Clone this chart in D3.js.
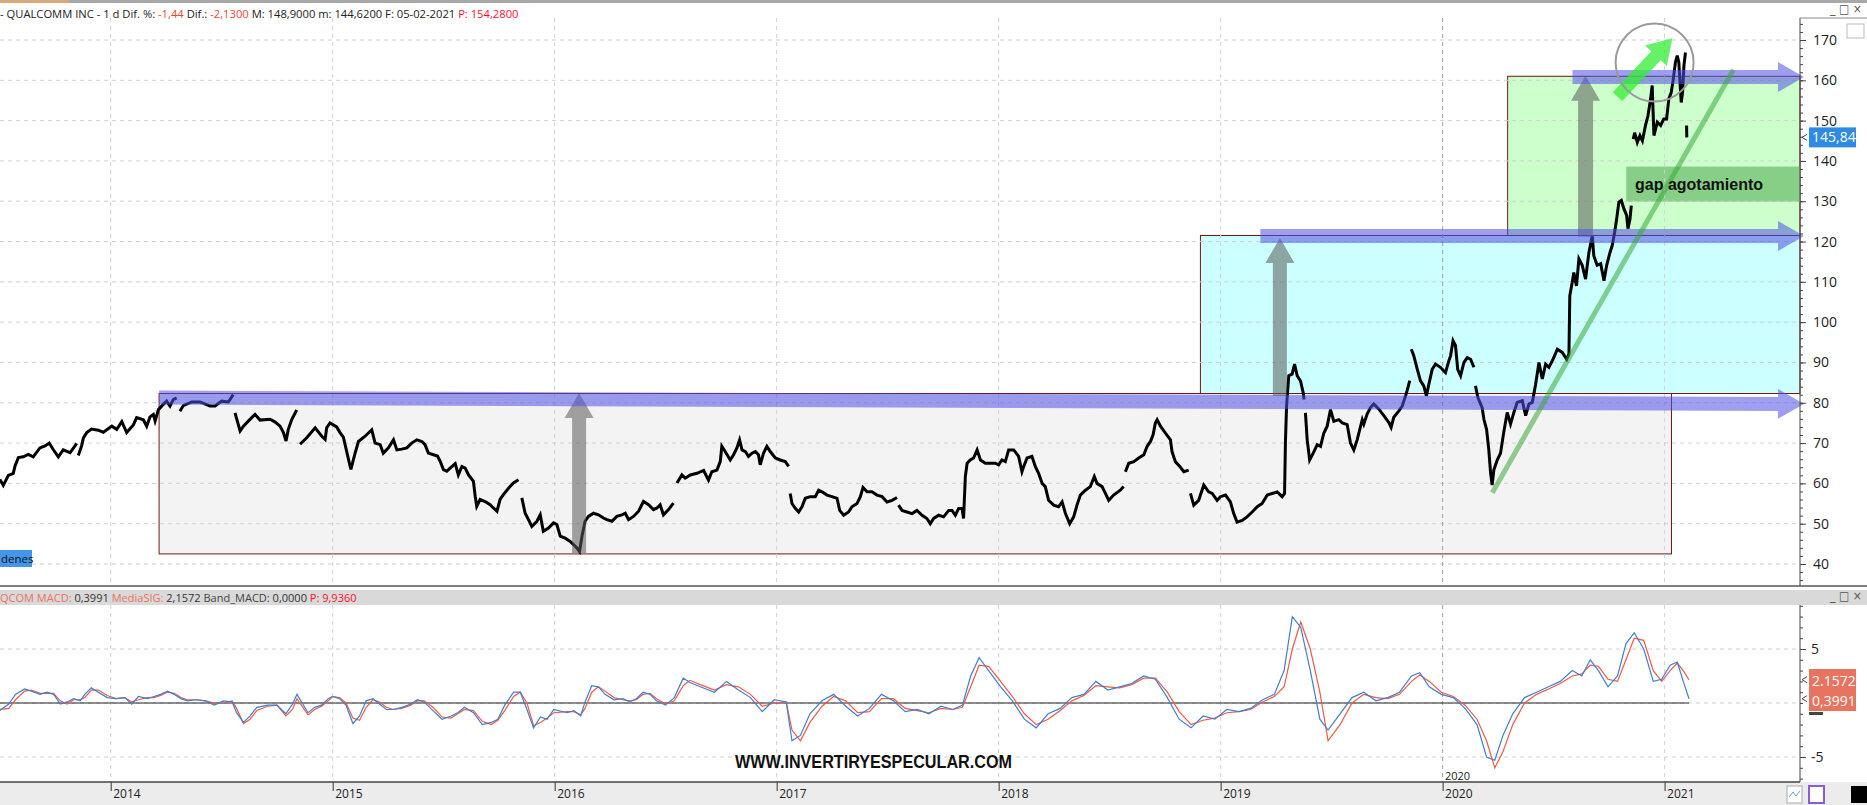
<!DOCTYPE html>
<html><head><meta charset="utf-8">
<script src="https://cdn.jsdelivr.net/npm/d3@7"></script>
<style>
html,body{margin:0;padding:0;background:#fff;}
svg{display:block;font-family:"Open Sans","Noto Sans",sans-serif;}
</style></head><body>
<svg id="chart" width="1867" height="805"></svg>
<script>
// ---------- DATA ----------
// QUALCOMM daily price (decimal year, price); null = gap in the series
const priceSeries = [
[2013.501,61.0],[2013.516,59.5],[2013.539,62.0],[2013.561,62.5],[2013.569,64.3],[2013.584,66.4],[2013.606,66.6],[2013.629,67.2],[2013.651,66.6],[2013.681,68.8],[2013.704,69.3],[2013.723,70.0],[2013.741,68.4],[2013.764,66.6],[2013.786,68.3],[2013.817,67.6],[2013.839,69.3],[2013.847,69.9],[2013.850,null],
[2013.854,66.9],[2013.869,69.3],[2013.877,71.3],[2013.892,72.6],[2013.914,73.5],[2013.944,73.2],[2013.967,72.7],[2014.005,74.2],[2014.027,73.4],[2014.050,75.3],[2014.072,72.6],[2014.102,74.5],[2014.117,76.3],[2014.147,75.8],[2014.162,74.2],[2014.177,76.5],[2014.192,77.1],[2014.200,75.5],[2014.215,78.3],[2014.237,79.6],[2014.252,80.4],[2014.267,79.2],[2014.282,80.8],[2014.297,81.2],[2014.305,null],
[2014.312,77.9],[2014.327,79.3],[2014.365,80.2],[2014.402,80.2],[2014.447,79.2],[2014.470,79.2],[2014.500,80.4],[2014.530,80.2],[2014.552,82.0],[2014.556,null],
[2014.560,77.5],[2014.583,73.0],[2014.598,74.2],[2014.635,76.3],[2014.650,77.1],[2014.673,75.7],[2014.718,75.9],[2014.741,75.2],[2014.763,74.2],[2014.778,72.6],[2014.790,70.5],[2014.800,73.4],[2014.816,75.9],[2014.838,78.2],[2014.845,null],
[2014.853,69.7],[2014.883,71.3],[2014.921,73.8],[2014.951,71.7],[2014.966,70.9],[2014.973,73.8],[2014.988,75.0],[2015.018,74.0],[2015.033,72.6],[2015.048,71.5],[2015.071,66.0],[2015.082,63.5],[2015.101,67.5],[2015.116,70.4],[2015.146,71.7],[2015.176,73.3],[2015.191,70.0],[2015.214,69.6],[2015.228,67.5],[2015.251,68.8],[2015.274,70.8],[2015.289,68.3],[2015.311,68.5],[2015.334,68.8],[2015.356,70.0],[2015.379,70.8],[2015.402,70.4],[2015.416,69.6],[2015.431,67.5],[2015.454,67.1],[2015.472,66.8],[2015.484,65.5],[2015.499,63.4],[2015.514,63.0],[2015.529,63.8],[2015.552,64.9],[2015.566,62.1],[2015.582,64.2],[2015.597,63.8],[2015.612,62.1],[2015.634,60.5],[2015.642,56.8],[2015.649,54.3],[2015.664,56.0],[2015.687,55.5],[2015.709,54.7],[2015.724,53.9],[2015.740,53.1],[2015.754,56.0],[2015.769,57.2],[2015.792,58.8],[2015.814,60.1],[2015.837,60.9],[2015.840,null],
[2015.852,56.4],[2015.867,52.6],[2015.882,51.0],[2015.897,49.3],[2015.920,50.6],[2015.935,52.2],[2015.949,48.1],[2015.972,48.9],[2015.995,50.2],[2016.010,49.8],[2016.025,46.9],[2016.047,46.4],[2016.070,45.6],[2016.085,44.8],[2016.100,44.0],[2016.112,43.1],[2016.123,46.9],[2016.137,50.6],[2016.152,51.8],[2016.175,52.6],[2016.197,52.2],[2016.220,51.4],[2016.235,51.0],[2016.258,50.6],[2016.280,51.8],[2016.303,52.2],[2016.318,52.6],[2016.333,51.0],[2016.355,51.8],[2016.378,53.1],[2016.400,55.5],[2016.423,54.7],[2016.445,53.5],[2016.461,53.9],[2016.475,54.7],[2016.490,52.2],[2016.513,53.5],[2016.535,55.1],[2016.540,null],
[2016.551,60.1],[2016.573,62.1],[2016.588,61.3],[2016.611,62.1],[2016.641,62.5],[2016.671,63.2],[2016.693,60.8],[2016.708,62.9],[2016.731,63.3],[2016.746,65.4],[2016.753,69.2],[2016.768,67.9],[2016.791,65.8],[2016.806,67.1],[2016.821,68.8],[2016.833,70.8],[2016.844,68.3],[2016.859,67.9],[2016.873,66.7],[2016.889,67.5],[2016.904,67.9],[2016.918,67.1],[2016.926,64.6],[2016.941,67.5],[2016.956,69.2],[2016.971,67.9],[2016.994,66.3],[2017.016,65.8],[2017.039,65.4],[2017.054,64.2],[2017.057,null],
[2017.061,57.5],[2017.069,55.0],[2017.084,53.8],[2017.099,52.9],[2017.114,54.2],[2017.129,56.3],[2017.151,56.7],[2017.174,56.7],[2017.189,58.3],[2017.204,57.9],[2017.227,57.1],[2017.249,56.7],[2017.272,56.3],[2017.284,53.3],[2017.302,52.1],[2017.324,52.9],[2017.339,54.2],[2017.362,55.0],[2017.377,56.7],[2017.389,59.0],[2017.407,57.9],[2017.429,57.9],[2017.452,57.1],[2017.475,56.7],[2017.497,55.4],[2017.520,55.8],[2017.542,56.5],[2017.545,null],
[2017.549,54.6],[2017.565,53.3],[2017.587,52.9],[2017.610,52.5],[2017.632,53.3],[2017.655,52.1],[2017.677,51.3],[2017.692,50.0],[2017.707,51.3],[2017.730,52.1],[2017.752,51.7],[2017.775,53.3],[2017.790,53.3],[2017.805,52.1],[2017.820,53.8],[2017.835,53.8],[2017.842,51.3],[2017.850,61.7],[2017.858,65.0],[2017.872,65.8],[2017.887,66.3],[2017.903,68.3],[2017.918,65.8],[2017.940,65.0],[2017.963,65.0],[2017.985,65.0],[2018.000,64.6],[2018.015,65.8],[2018.030,65.4],[2018.045,68.3],[2018.068,68.3],[2018.090,66.7],[2018.105,62.9],[2018.113,64.2],[2018.128,66.3],[2018.150,66.7],[2018.165,64.2],[2018.180,62.5],[2018.196,60.0],[2018.210,59.2],[2018.225,55.8],[2018.248,54.6],[2018.270,54.2],[2018.286,55.4],[2018.301,52.5],[2018.320,50.0],[2018.338,51.7],[2018.353,54.6],[2018.368,57.1],[2018.391,58.3],[2018.413,59.2],[2018.431,61.7],[2018.443,60.0],[2018.466,59.2],[2018.481,57.5],[2018.496,55.8],[2018.518,57.1],[2018.548,58.3],[2018.563,59.2],[2018.566,null],
[2018.571,62.9],[2018.586,65.0],[2018.609,65.4],[2018.631,66.3],[2018.654,67.1],[2018.669,69.2],[2018.684,70.4],[2018.696,72.1],[2018.706,75.0],[2018.714,75.8],[2018.729,74.2],[2018.751,72.5],[2018.774,70.8],[2018.781,67.9],[2018.796,65.4],[2018.816,64.2],[2018.834,62.9],[2018.856,63.3],[2018.860,null],
[2018.864,57.5],[2018.879,54.6],[2018.901,55.8],[2018.924,59.6],[2018.946,57.9],[2018.962,57.5],[2018.984,55.8],[2018.999,56.7],[2019.022,57.1],[2019.044,55.4],[2019.059,52.5],[2019.074,50.4],[2019.097,50.8],[2019.119,51.7],[2019.142,52.9],[2019.165,54.2],[2019.187,55.0],[2019.210,57.1],[2019.232,57.5],[2019.255,57.9],[2019.277,56.7],[2019.288,57.5],[2019.292,70.4],[2019.297,79.2],[2019.307,86.7],[2019.322,87.1],[2019.333,89.6],[2019.345,86.7],[2019.360,85.4],[2019.372,82.5],[2019.376,80.8],[2019.379,null],
[2019.382,77.5],[2019.390,70.8],[2019.401,65.8],[2019.417,67.5],[2019.435,69.6],[2019.450,69.2],[2019.465,72.5],[2019.480,74.2],[2019.495,78.3],[2019.510,75.4],[2019.532,75.8],[2019.548,75.0],[2019.570,74.6],[2019.585,70.0],[2019.600,68.3],[2019.615,70.8],[2019.638,75.8],[2019.645,74.7],[2019.660,77.2],[2019.675,78.8],[2019.690,79.7],[2019.713,78.4],[2019.735,76.8],[2019.758,75.1],[2019.768,73.9],[2019.780,76.4],[2019.803,78.0],[2019.818,79.2],[2019.833,81.7],[2019.840,83.0],[2019.852,85.5],[2019.855,null],
[2019.859,93.3],[2019.870,91.7],[2019.886,88.3],[2019.900,85.5],[2019.915,84.2],[2019.927,81.7],[2019.938,84.6],[2019.953,88.3],[2019.968,89.6],[2019.990,88.8],[2020.013,87.5],[2020.028,90.4],[2020.036,91.7],[2020.047,95.4],[2020.058,94.2],[2020.068,88.3],[2020.081,86.7],[2020.096,90.0],[2020.111,91.2],[2020.126,90.8],[2020.141,88.8],[2020.143,null],
[2020.148,84.2],[2020.159,81.3],[2020.168,80.1],[2020.178,78.8],[2020.186,75.9],[2020.198,73.4],[2020.208,68.4],[2020.216,62.6],[2020.223,59.6],[2020.231,63.4],[2020.246,65.8],[2020.261,67.5],[2020.276,72.9],[2020.291,77.6],[2020.306,74.7],[2020.321,77.6],[2020.336,80.1],[2020.359,80.5],[2020.374,76.8],[2020.389,79.7],[2020.404,80.1],[2020.419,84.6],[2020.434,90.0],[2020.449,85.9],[2020.464,89.6],[2020.479,88.8],[2020.494,90.4],[2020.517,93.3],[2020.539,92.5],[2020.559,90.8],[2020.569,92.1],[2020.573,106.6],[2020.584,109.9],[2020.591,112.3],[2020.603,109.0],[2020.614,115.7],[2020.629,114.1],[2020.644,110.7],[2020.659,117.3],[2020.674,121.4],[2020.681,116.5],[2020.696,114.1],[2020.712,114.5],[2020.727,110.3],[2020.739,114.1],[2020.754,117.3],[2020.764,119.0],[2020.775,122.3],[2020.784,125.6],[2020.794,129.8],[2020.805,130.2],[2020.817,128.1],[2020.829,126.5],[2020.835,123.2],[2020.844,125.6],[2020.850,128.9],[2020.853,null],
[2020.859,145.4],[2020.865,147.0],[2020.877,144.6],[2020.889,146.3],[2020.900,145.0],[2020.914,148.8],[2020.925,151.2],[2020.937,155.4],[2020.944,158.7],[2020.952,146.3],[2020.967,149.6],[2020.982,148.8],[2020.996,150.4],[2021.009,150.4],[2021.019,155.4],[2021.030,157.0],[2021.039,160.3],[2021.049,164.5],[2021.057,166.1],[2021.064,164.5],[2021.075,154.5],[2021.081,157.0],[2021.087,163.6],[2021.094,166.9],[2021.095,null],
[2021.099,148.8],[2021.100,145.84]
];

// MACD line (blue)
const macdSeries = [
[2013.500,-0.7],[2013.541,-0.1],[2013.571,0.8],[2013.612,1.3],[2013.642,1.1],[2013.682,0.8],[2013.712,1.0],[2013.743,0.8],[2013.773,-0.1],[2013.803,0.1],[2013.833,0.4],[2013.863,0.2],[2013.883,0.8],[2013.913,1.4],[2013.944,1.0],[2013.984,0.5],[2014.024,0.4],[2014.064,0.5],[2014.095,-0.1],[2014.125,0.6],[2014.165,0.4],[2014.195,0.6],[2014.225,0.8],[2014.256,1.1],[2014.286,0.8],[2014.316,0.4],[2014.346,0.2],[2014.386,0.3],[2014.427,0.2],[2014.467,-0.2],[2014.507,0.2],[2014.547,0.1],[2014.567,-0.9],[2014.598,-1.8],[2014.628,-1.2],[2014.658,-0.4],[2014.708,-0.2],[2014.749,-0.2],[2014.789,-1.0],[2014.819,-0.1],[2014.839,0.8],[2014.889,-0.9],[2014.919,-0.4],[2014.950,-0.2],[2014.980,0.4],[2015.000,0.6],[2015.030,0.4],[2015.060,-0.2],[2015.091,-1.9],[2015.121,-1.2],[2015.151,0.2],[2015.181,0.4],[2015.211,-0.1],[2015.242,-0.6],[2015.272,-0.6],[2015.312,-0.4],[2015.352,-0.1],[2015.382,0.3],[2015.412,0.1],[2015.452,-0.7],[2015.493,-1.5],[2015.533,-1.2],[2015.563,-0.9],[2015.594,-0.4],[2015.634,-0.9],[2015.674,-2.0],[2015.714,-1.8],[2015.744,-1.5],[2015.775,-0.2],[2015.815,1.0],[2015.845,1.0],[2015.875,-0.6],[2015.905,-2.3],[2015.936,-1.3],[2015.966,-1.5],[2015.996,-0.6],[2016.056,-0.9],[2016.087,-0.7],[2016.117,-1.2],[2016.137,0.1],[2016.167,1.6],[2016.197,1.5],[2016.227,0.8],[2016.267,0.3],[2016.308,0.4],[2016.338,0.1],[2016.368,0.4],[2016.398,1.0],[2016.429,0.8],[2016.459,0.2],[2016.499,-0.2],[2016.539,0.5],[2016.579,2.3],[2016.609,1.9],[2016.656,1.5],
[2016.720,1.0],[2016.774,2.0],[2016.828,1.2],[2016.882,0.5],[2016.935,-0.8],[2016.989,0.3],[2017.043,0.1],[2017.069,-3.5],[2017.107,-3.0],[2017.150,-1.0],[2017.204,0.2],[2017.257,0.8],[2017.311,-0.3],[2017.365,-1.2],[2017.418,-0.5],[2017.472,0.8],[2017.526,0.2],[2017.579,-0.8],[2017.633,-0.6],[2017.686,-1.0],[2017.740,-0.3],[2017.794,-0.6],[2017.837,-0.2],[2017.874,2.5],[2017.912,4.2],[2017.955,3.0],[2018.009,1.5],[2018.062,0.2],[2018.116,-1.5],[2018.169,-2.3],[2018.223,-1.0],[2018.277,-0.5],[2018.330,0.5],[2018.384,0.8],[2018.438,2.0],[2018.492,1.2],[2018.545,1.5],[2018.599,1.8],[2018.653,2.5],[2018.706,2.2],[2018.760,0.5],[2018.813,-1.5],[2018.867,-2.3],[2018.921,-1.2],[2018.974,-1.5],[2019.028,-0.6],[2019.082,-0.8],[2019.135,-0.5],[2019.189,0.3],[2019.242,0.8],[2019.286,3.0],[2019.323,8.0],[2019.361,7.0],[2019.404,3.0],[2019.447,-1.5],[2019.484,-2.5],[2019.538,-1.0],[2019.592,0.5],[2019.645,1.0],[2019.699,0.2],[2019.753,0.5],[2019.806,1.0],[2019.860,2.5],[2019.897,2.8],[2019.940,1.5],[2019.994,0.8],[2020.048,0.5],[2020.101,-0.5],[2020.155,-2.0],[2020.198,-5.0],[2020.235,-5.3],[2020.272,-3.0],[2020.316,-1.0],[2020.369,0.5],[2020.423,1.0],[2020.477,1.5],[2020.530,2.0],[2020.584,3.0],[2020.627,2.5],[2020.665,4.0],[2020.702,3.0],[2020.745,1.5],[2020.788,2.5],[2020.826,5.5],[2020.863,6.5],[2020.906,5.0],[2020.949,2.0],[2020.987,2.2],[2021.025,3.5],[2021.057,3.8],[2021.084,2.0],[2021.110,0.3991]
];

// Signal line (red, MediaSIG)
const signalSeries = [
[2013.500,-0.6],[2013.541,-0.5],[2013.571,0.3],[2013.612,1.1],[2013.642,1.2],[2013.682,0.9],[2013.712,0.9],[2013.743,0.9],[2013.773,0.2],[2013.803,-0.1],[2013.833,0.3],[2013.863,0.3],[2013.883,0.5],[2013.913,1.2],[2013.944,1.2],[2013.984,0.7],[2014.024,0.4],[2014.064,0.5],[2014.095,0.1],[2014.125,0.3],[2014.165,0.5],[2014.195,0.5],[2014.225,0.7],[2014.256,1.0],[2014.286,0.9],[2014.316,0.5],[2014.346,0.3],[2014.386,0.3],[2014.427,0.2],[2014.467,0.0],[2014.507,0.0],[2014.547,0.2],[2014.567,-0.5],[2014.598,-1.9],[2014.628,-1.5],[2014.658,-0.7],[2014.708,-0.3],[2014.749,-0.2],[2014.789,-1.2],[2014.819,-0.6],[2014.839,0.4],[2014.889,-1.1],[2014.919,-0.6],[2014.950,-0.3],[2014.980,0.2],[2015.000,0.6],[2015.030,0.5],[2015.060,0.0],[2015.091,-1.4],[2015.121,-1.6],[2015.151,-0.4],[2015.181,0.3],[2015.211,0.1],[2015.242,-0.4],[2015.272,-0.6],[2015.312,-0.5],[2015.352,-0.2],[2015.382,0.2],[2015.412,0.2],[2015.452,-0.4],[2015.493,-1.3],[2015.533,-1.4],[2015.563,-1.0],[2015.594,-0.6],[2015.634,-0.7],[2015.674,-1.7],[2015.714,-2.0],[2015.744,-1.6],[2015.775,-0.7],[2015.815,0.6],[2015.845,1.0],[2015.875,0.0],[2015.905,-2.1],[2015.936,-1.8],[2015.966,-1.4],[2015.996,-0.9],[2016.056,-0.8],[2016.087,-0.8],[2016.117,-1.1],[2016.137,-0.5],[2016.167,1.0],[2016.197,1.5],[2016.227,1.1],[2016.267,0.5],[2016.308,0.3],[2016.338,0.2],[2016.368,0.3],[2016.398,0.8],[2016.429,0.9],[2016.459,0.4],[2016.499,-0.1],[2016.539,0.2],[2016.579,1.6],[2016.609,2.1],[2016.656,1.7],
[2016.720,1.2],[2016.774,1.7],[2016.828,1.5],[2016.882,0.8],[2016.935,-0.3],[2016.989,0.0],[2017.043,0.1],[2017.069,-2.5],[2017.107,-3.5],[2017.150,-1.8],[2017.204,-0.3],[2017.257,0.6],[2017.311,0.2],[2017.365,-0.9],[2017.418,-0.8],[2017.472,0.4],[2017.526,0.4],[2017.579,-0.5],[2017.633,-0.7],[2017.686,-0.9],[2017.740,-0.5],[2017.794,-0.6],[2017.837,-0.4],[2017.874,1.5],[2017.912,3.5],[2017.955,3.4],[2018.009,2.0],[2018.062,0.6],[2018.116,-1.0],[2018.169,-2.0],[2018.223,-1.5],[2018.277,-0.7],[2018.330,0.2],[2018.384,0.7],[2018.438,1.6],[2018.492,1.5],[2018.545,1.4],[2018.599,1.7],[2018.653,2.3],[2018.706,2.3],[2018.760,1.0],[2018.813,-0.8],[2018.867,-2.0],[2018.921,-1.6],[2018.974,-1.4],[2019.028,-0.9],[2019.082,-0.8],[2019.135,-0.6],[2019.189,0.1],[2019.242,0.6],[2019.286,1.5],[2019.323,5.0],[2019.361,7.5],[2019.404,5.0],[2019.447,1.0],[2019.484,-3.5],[2019.538,-2.0],[2019.592,0.0],[2019.645,0.8],[2019.699,0.5],[2019.753,0.4],[2019.806,0.8],[2019.860,2.0],[2019.897,2.6],[2019.940,2.0],[2019.994,1.0],[2020.048,0.6],[2020.101,-0.2],[2020.155,-1.5],[2020.198,-3.5],[2020.235,-6.0],[2020.272,-4.5],[2020.316,-2.0],[2020.369,0.0],[2020.423,0.8],[2020.477,1.3],[2020.530,1.8],[2020.584,2.5],[2020.627,2.7],[2020.665,3.5],[2020.702,3.4],[2020.745,2.2],[2020.788,2.0],[2020.826,4.0],[2020.863,6.0],[2020.906,5.8],[2020.949,3.0],[2020.987,2.0],[2021.025,3.0],[2021.057,3.7],[2021.084,3.0],[2021.110,2.1572]
];

const yearTicks = [2014,2015,2016,2017,2018,2019,2020,2021];
const priceTicks = [40,50,60,70,80,90,100,110,120,130,140,150,160,170];
const macdTicks = [-5,5];
const lastPrice = 145.84;
const lastMacd = 0.3991, lastSignal = 2.1572;

const headerParts = [
 {t:"- QUALCOMM INC - ", c:"#222"},
 {t:"1 d ", c:"#222"},
 {t:"Dif. %: ", c:"#222"},
 {t:"-1,44 ", c:"#e8463a"},
 {t:"Dif.: ", c:"#222"},
 {t:"-2,1300 ", c:"#e8463a"},
 {t:"M: 148,9000 ", c:"#222"},
 {t:"m: 144,6200 ", c:"#222"},
 {t:"F: 05-02-2021 ", c:"#222"},
 {t:"P: 154,2800", c:"#ff1030"}
];
const macdHeaderParts = [
 {t:"QCOM ", c:"#e8735f"},
 {t:"MACD: ", c:"#e8735f"},
 {t:"0,3991 ", c:"#333"},
 {t:"MediaSIG: ", c:"#e8735f"},
 {t:"2,1572 ", c:"#333"},
 {t:"Band_MACD: ", c:"#444"},
 {t:"0,0000 ", c:"#333"},
 {t:"P: 9,9360", c:"#ff1030"}
];

// ---------- SCALES ----------
const svg = d3.select("#chart");
const W = 1867, H = 805, plotR = 1800;
const x = d3.scaleLinear().domain([2014, 2021]).range([110.7, 1664.6]);
const yP = d3.scaleLinear().domain([40, 170]).range([564, 40]);
const yM = d3.scaleLinear().domain([-5, 5]).range([757, 649]);
const PT = 18, PB = 586, MT = 605, MB = 782;

svg.append("rect").attr("width", W).attr("height", H).attr("fill", "#fff");
svg.append("rect").attr("x",0).attr("y",0).attr("width",W).attr("height",3).attr("fill","#a8a8a8");
svg.append("rect").attr("x",0).attr("y",0).attr("width",69).attr("height",3).attr("fill","#d9a877");

// ---------- ZONES ----------
const g = svg.append("g");
function rectZone(x0, x1, p0, p1, fill) {
  g.append("rect").attr("x", x0).attr("y", yP(p1)).attr("width", x1 - x0).attr("height", yP(p0) - yP(p1))
    .attr("fill", fill).attr("stroke", "#7a1414").attr("stroke-width", 1);
}
rectZone(x(2014.218), x(2021.031), 42.5, 82.3, "#f3f3f3");
rectZone(x(2018.909), plotR, 82.3, 121.5, "#ccffff");
rectZone(x(2020.293), plotR, 121.5, 161.0, "#ccffcc");

// ---------- GRID ----------
const grid = svg.append("g").attr("stroke-dasharray", "4,4").attr("stroke-width", 1);
priceTicks.forEach(v => grid.append("line").attr("x1", 0).attr("x2", plotR).attr("y1", yP(v)).attr("y2", yP(v)).attr("stroke", "#d0d0d0"));
[-5, 0, 5].forEach(v => grid.append("line").attr("x1", 0).attr("x2", plotR).attr("y1", yM(v)).attr("y2", yM(v)).attr("stroke", "#d0d0d0"));
yearTicks.forEach(yr => {
  const c = yr === 2020 ? "#a0a0a0" : "#d0d0d0";
  grid.append("line").attr("x1", x(yr)).attr("x2", x(yr)).attr("y1", PT).attr("y2", PB).attr("stroke", c);
  grid.append("line").attr("x1", x(yr)).attr("x2", x(yr)).attr("y1", MT).attr("y2", MB).attr("stroke", c);
});

g.append("rect").attr("x", x(2020.827)).attr("y", yP(138.6)).attr("width", plotR - x(2020.827))
  .attr("height", yP(129.9) - yP(138.6)).attr("fill", "#87cf87");

// ---------- PRICE ----------
const line = d3.line().defined(d => d[1] != null).x(d => x(d[0])).y(d => yP(d[1]));
svg.append("path").datum(priceSeries).attr("d", line).attr("fill", "none")
  .attr("stroke", "#000").attr("stroke-width", 3).attr("stroke-linejoin", "miter");

// ---------- ANNOTATIONS ----------
function arrowPts(x1, y1, x2, y2, sw, hw, hl) {
  const dx = x2 - x1, dy = y2 - y1, L = Math.hypot(dx, dy), ux = dx / L, uy = dy / L, nx = -uy, ny = ux;
  const bx = x2 - ux * hl, by = y2 - uy * hl;
  return [[x1 + nx * sw / 2, y1 + ny * sw / 2], [bx + nx * sw / 2, by + ny * sw / 2], [bx + nx * hw / 2, by + ny * hw / 2],
    [x2, y2], [bx - nx * hw / 2, by - ny * hw / 2], [bx - nx * sw / 2, by - ny * sw / 2], [x1 - nx * sw / 2, y1 - ny * sw / 2]];
}
function arrow(pts, fill, op) {
  svg.append("path").attr("d", d3.line()(pts) + "Z").attr("fill", fill).attr("fill-opacity", op);
}
arrow(arrowPts(x(2016.110), yP(42.7), x(2016.110), yP(82.4), 14, 29, 25), "#5a5a5a", 0.55);
arrow(arrowPts(x(2019.267), yP(81.7), x(2019.267), yP(120.9), 14, 29, 25), "#5a5a5a", 0.55);
arrow(arrowPts(x(2020.644), yP(121.2), x(2020.644), yP(161.1), 15, 29, 25), "#5a5a5a", 0.55);
arrow(arrowPts(x(2014.218), yP(81.3), 1804, yP(79.7), 14, 30, 26), "#5050e6", 0.55);
arrow(arrowPts(x(2019.179), yP(121.4), 1804, yP(121.4), 14, 30, 26), "#5050e6", 0.55);
arrow(arrowPts(x(2020.585), yP(160.8), 1804, yP(160.8), 14, 30, 26), "#5050e6", 0.55);
svg.append("line").attr("x1", x(2020.224)).attr("y1", yP(57.7)).attr("x2", x(2021.31)).attr("y2", yP(162.6))
  .attr("stroke", "#3aa83a").attr("stroke-opacity", 0.55).attr("stroke-width", 5);
arrow(arrowPts(x(2020.788), yP(155.96), x(2021.035), yP(170.45), 13, 30, 24), "#33ee33", 0.75);
svg.append("circle").attr("cx", x(2020.955)).attr("cy", yP(164.4)).attr("r", 39)
  .attr("fill", "none").attr("stroke", "#9a9a9a").attr("stroke-width", 2);
svg.append("text").attr("x", 1635).attr("y", 190).text("gap agotamiento")
  .attr("font-family", "'Liberation Sans',Arial,sans-serif").attr("font-weight", "bold").attr("font-size", 16).attr("fill", "#111");

// ---------- MACD ----------
svg.append("line").attr("x1", 0).attr("x2", W).attr("y1", PB).attr("y2", PB).attr("stroke", "#555").attr("stroke-width", 1.5);
svg.append("rect").attr("x", 0).attr("y", 590).attr("width", W).attr("height", 15).attr("fill", "#d9d9d9");
const mline = d3.line().x(d => x(d[0])).y(d => yM(d[1]));
svg.append("line").attr("x1", 0).attr("x2", x(2021.11)).attr("y1", yM(0)).attr("y2", yM(0)).attr("stroke", "#222").attr("stroke-width", 1);
svg.append("path").datum(signalSeries).attr("d", mline).attr("fill", "none").attr("stroke", "#ef5a45").attr("stroke-width", 1.2);
svg.append("path").datum(macdSeries).attr("d", mline).attr("fill", "none").attr("stroke", "#3f7fcf").attr("stroke-width", 1.2);

// ---------- AXES ----------
svg.append("line").attr("x1", plotR).attr("x2", plotR).attr("y1", PT).attr("y2", PB).attr("stroke", "#444");
svg.append("line").attr("x1", plotR).attr("x2", W).attr("y1", PT).attr("y2", PT).attr("stroke", "#888");
svg.append("line").attr("x1", plotR).attr("x2", plotR).attr("y1", MT).attr("y2", MB).attr("stroke", "#444");

const pa = svg.append("g").attr("transform", `translate(${plotR},0)`);
pa.call(d3.axisRight(yP).tickValues(d3.range(36, 176, 2)).tickSize(3).tickSizeOuter(0).tickFormat(""));
pa.select(".domain").remove();
const pa2 = svg.append("g").attr("transform", `translate(${plotR},0)`);
pa2.call(d3.axisRight(yP).tickValues(priceTicks).tickSize(6).tickPadding(7).tickSizeOuter(0).tickFormat(d => String(d)));
pa2.select(".domain").remove();
pa2.selectAll("text").attr("font-size", 14).attr("fill", "#222").attr("font-family", "'Open Sans',sans-serif");

const ma = svg.append("g").attr("transform", `translate(${plotR},0)`);
ma.call(d3.axisRight(yM).tickValues(d3.range(-7, 10, 1)).tickSize(3).tickSizeOuter(0).tickFormat(""));
ma.select(".domain").remove();
const ma2 = svg.append("g").attr("transform", `translate(${plotR},0)`);
ma2.call(d3.axisRight(yM).tickValues(macdTicks).tickSize(6).tickPadding(5).tickSizeOuter(0).tickFormat(d => String(d)));
ma2.select(".domain").remove();
ma2.selectAll("text").attr("font-size", 14).attr("fill", "#222").attr("font-family", "'Open Sans',sans-serif");
svg.selectAll(".tick line").attr("stroke", "#444");

svg.append("rect").attr("x", 0).attr("y", MB).attr("width", W).attr("height", H - MB).attr("fill", "#ececec");
const ta = svg.append("g").attr("transform", `translate(0,${MB})`);
ta.call(d3.axisBottom(x).tickValues(yearTicks).tickSize(9).tickSizeOuter(0).tickFormat(d => String(d)));
ta.select(".domain").remove();
ta.selectAll(".tick line").attr("stroke", "#333");
ta.selectAll("text").attr("text-anchor", "start").attr("x", 2).attr("y", 7).attr("dy", "0.71em")
  .attr("font-size", 12).attr("fill", "#222").attr("font-family", "'Open Sans',sans-serif");
svg.append("line").attr("x1", 0).attr("x2", plotR).attr("y1", MB).attr("y2", MB).attr("stroke", "#444").attr("stroke-width", 1.5);

// ---------- HEADER LINES (single flowing text, font sized to span the measured width) ----------
function headerLine(parts, yy, targetW) {
  const t = svg.append("text").attr("x", 0).attr("y", yy).attr("font-size", 12)
    .attr("font-family", "'Open Sans',sans-serif").style("white-space", "pre");
  parts.forEach(p => t.append("tspan").attr("fill", p.c).text(p.t));
  const w = t.node().getComputedTextLength();
  t.attr("font-size", Math.min(13, 12 * targetW / w));
}
headerLine(headerParts, 17.5, 519);
headerLine(macdHeaderParts, 602, 357);

const lpY = yP(lastPrice);
svg.append("rect").attr("x", 1809).attr("y", lpY - 10).attr("width", 47).attr("height", 20).attr("fill", "#2f8ae4");
svg.append("text").attr("x", 1812).attr("y", lpY + 5).text("145,84").attr("fill", "#fff").attr("font-size", 14).attr("font-family", "'Open Sans',sans-serif");
svg.append("path").attr("d", `M1807,${lpY-3}L1802,${lpY}L1807,${lpY+3}`).attr("stroke", "#444").attr("fill", "none");
svg.append("rect").attr("x", 1809).attr("y", 669).attr("width", 47).attr("height", 42).attr("fill", "#e8735f");
svg.append("rect").attr("x", 1809).attr("y", 712).attr("width", 14).attr("height", 3).attr("fill", "#444");
svg.append("text").attr("x", 1812).attr("y", 686).text("2.1572").attr("fill", "#fff").attr("font-size", 14).attr("font-family", "'Open Sans',sans-serif");
svg.append("text").attr("x", 1812).attr("y", 706).text("0,3991").attr("fill", "#fff").attr("font-size", 14).attr("font-family", "'Open Sans',sans-serif");
[yM(lastSignal), yM(lastMacd)].forEach(yy => svg.append("path").attr("d", `M1807,${yy-3}L1802,${yy}L1807,${yy+3}`).attr("stroke", "#444").attr("fill", "none"));

svg.append("rect").attr("x", 0).attr("y", 550).attr("width", 32).attr("height", 17).attr("fill", "#4396ea");
svg.append("text").attr("x", 1).attr("y", 563).text("denes").attr("font-size", 11.5).attr("fill", "#111")
  .attr("font-family", "'Open Sans',sans-serif");

svg.append("text").attr("x", 735).attr("y", 768).text("WWW.INVERTIRYESPECULAR.COM")
  .attr("font-family", "'Liberation Sans',Arial,sans-serif").attr("font-weight", "bold").attr("font-size", 18)
  .attr("textLength", 277).attr("lengthAdjust", "spacingAndGlyphs").attr("fill", "#111");
svg.append("text").attr("x", 1445).attr("y", 780).text("2020").attr("font-size", 11).attr("fill", "#222").attr("font-family", "'Open Sans',sans-serif");

[[13, "_ \u25A1 \u00D7"], [600, "_ \u25A1 \u00D7"]].forEach(([yy, t]) =>
  svg.append("text").attr("x", 1830).attr("y", yy).text(t).attr("font-size", 12).attr("fill", "#555")
    .attr("textLength", 32).attr("lengthAdjust", "spacingAndGlyphs").attr("font-family", "'DejaVu Sans',sans-serif"));
svg.append("rect").attr("x", 1847).attr("y", 24).attr("width", 17).attr("height", 14).attr("fill", "#fff").attr("stroke", "#bbb");
svg.append("rect").attr("x", 1787).attr("y", 786).attr("width", 15).attr("height", 17).attr("fill", "#fff").attr("stroke", "#aaa");
svg.append("path").attr("d", "M1789,797L1793,792L1796,796L1800,791").attr("stroke", "#5aa0d8").attr("fill", "none");
svg.append("rect").attr("x", 1809).attr("y", 786).attr("width", 15).attr("height", 17).attr("fill", "#fff").attr("stroke", "#8a5ad8").attr("stroke-width", 2);
svg.append("rect").attr("x", 1851).attr("y", 786).attr("width", 16).attr("height", 17).attr("fill", "#000");
</script>
</body></html>
